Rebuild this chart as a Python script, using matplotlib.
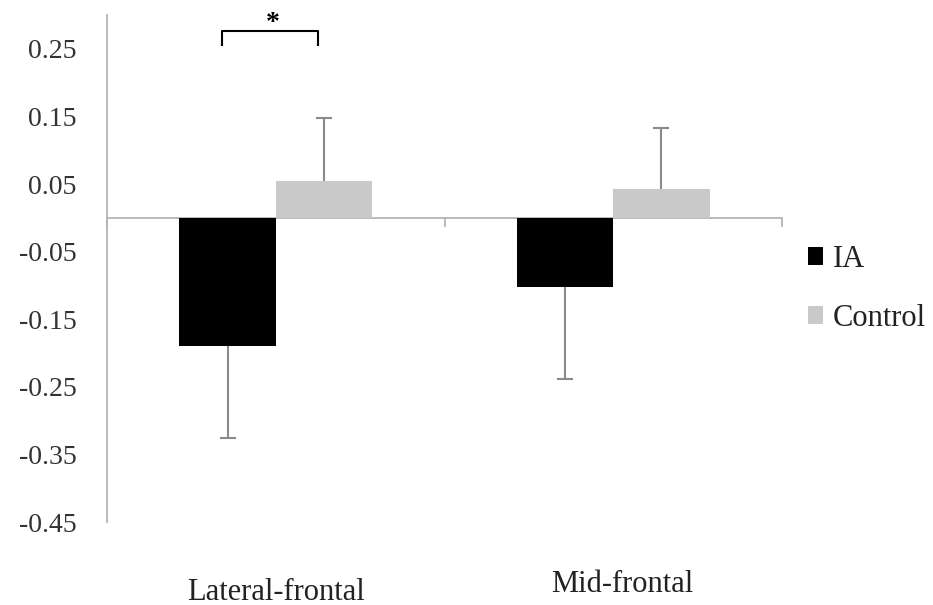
import matplotlib
matplotlib.use("Agg")
import matplotlib.pyplot as plt
import matplotlib.transforms as mtransforms
import numpy as np

categories = ["Lateral-frontal", "Mid-frontal"]
series_names = ["IA", "Control"]
ia_values = [-0.189, -0.102]
control_values = [0.055, 0.043]
ia_err = [0.136, 0.137]
control_err = [0.093, 0.090]
ytick_values = [0.25, 0.15, 0.05, -0.05, -0.15, -0.25, -0.35, -0.45]
ytick_labels = ["0.25", "0.15", "0.05", "-0.05", "-0.15", "-0.25", "-0.35", "-0.45"]

plt.rcParams['font.family'] = ['Liberation Serif', 'DejaVu Serif']

fig = plt.figure(figsize=(9.33, 6.05), dpi=100)
ax = fig.add_axes([107/933, 83/605, 675/933, 507/605])

x = np.arange(len(categories))
w = 0.2857
axis_col = '#b4b4b4'
err_col = '#8a8a8a'

ax.bar(x - w/2, ia_values, w, color='black', label=series_names[0], zorder=3)
ax.bar(x + w/2, control_values, w, color='#c9c9c9', label=series_names[1], zorder=3)
# one-sided error bars (away from zero)
eb1 = ax.errorbar(x - w/2, ia_values, yerr=[ia_err, [0]*len(ia_err)], fmt='none',
                  ecolor=err_col, elinewidth=1.5, capsize=6, capthick=1.5, zorder=2)
eb2 = ax.errorbar(x + w/2, control_values, yerr=[[0]*len(control_err), control_err], fmt='none',
                  ecolor=err_col, elinewidth=1.5, capsize=6, capthick=1.5, zorder=2)
# hide the caps that sit on the bar ends (zero-length side)
eb1[1][1].set_visible(False)
eb2[1][0].set_visible(False)

ax.set_xlim(-0.5, 1.5)
ax.set_ylim(-0.45, 0.30)

# zero line with category tick marks
ax.axhline(0, color=axis_col, lw=1.3, zorder=1)
for xt in [-0.5, 0.5, 1.5]:
    ax.plot([xt, xt], [0, -0.012], color=axis_col, lw=1.3, clip_on=False, zorder=1)

for s in ['top', 'right', 'bottom']:
    ax.spines[s].set_visible(False)
ax.spines['left'].set_color(axis_col)
ax.spines['left'].set_linewidth(1.3)

ax.set_yticks(ytick_values)
ax.set_yticklabels(ytick_labels, fontsize=20, color='#333333')
ax.tick_params(axis='y', length=0, pad=22)
ax.set_xticks(x)
ax.set_xticklabels(categories, fontsize=22, color='#222222')
ax.tick_params(axis='x', length=0, pad=40)
# Mid-frontal label sits a little right and higher in the original
lbl = ax.get_xticklabels()[1]
lbl.set_transform(lbl.get_transform() + mtransforms.ScaledTranslation(9/100, 8/100, fig.dpi_scale_trans))

# significance bracket
bx0, bx1, by0, by1 = -0.16, 0.125, 0.255, 0.276
ax.plot([bx0, bx0, bx1, bx1], [by0, by1, by1, by0], color='black', lw=1.5,
        clip_on=False, zorder=4)
ax.text(-0.009, 0.287, '*', ha='center', va='center', fontsize=20,
        fontweight='bold', clip_on=False)

leg = fig.legend(loc='upper left', bbox_to_anchor=(808/933, (605-245)/605),
                 frameon=False, fontsize=22, handlelength=0.5, handleheight=0.5,
                 handletextpad=0.3, labelspacing=0.97, borderpad=0, borderaxespad=0)
for t in leg.get_texts():
    t.set_color('#222222')

fig.savefig('out.png', dpi=100)
